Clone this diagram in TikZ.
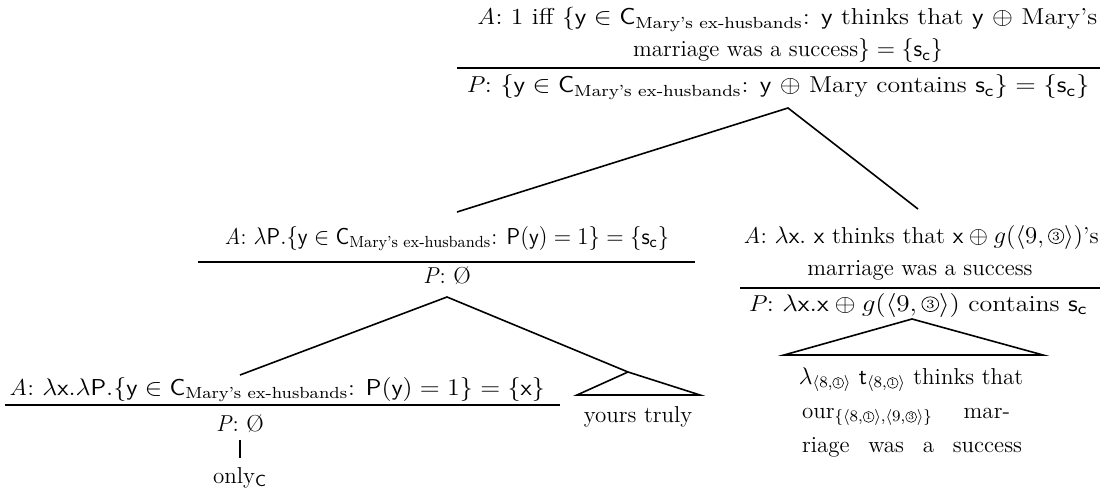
\documentclass[tikz,border=0pt]{standalone}
\usepackage{amsmath,amssymb}
\usepackage{fontspec}
\newcommand{\Cmx}{\mathsf{C}_{\text{Mary's ex-husbands}}}
% circled digits: normal size and subscript size
\newcommand{\cN}[1]{\text{\tikz[baseline=0pt]{\draw[line width=0.35pt] (0pt,3.4pt) circle[radius=3.7pt]; \node[inner sep=0pt,anchor=center,font=\fontsize{6.2}{6.2}\selectfont] at (0pt,3.4pt) {#1};}}}
\newcommand{\cS}[1]{\text{\tikz[baseline=0pt]{\draw[line width=0.3pt] (0pt,2.4pt) circle[radius=2.7pt]; \node[inner sep=0pt,anchor=center,font=\fontsize{4.5}{4.5}\selectfont] at (0pt,2.4pt) {#1};}}}
\newcommand{\sv}{\mathsf{s}_{\mathsf{c}}}
\begin{document}
\begin{tikzpicture}[x=0.5pt,y=-0.5pt,
  lbl/.style={anchor=base,inner sep=0pt,font=\fontsize{11.5}{14}\selectfont},
  branch/.style={line width=0.8pt},
  rulebar/.style={line width=0.7pt}]
\useasboundingbox (0,0) rectangle (1102,497);
% top node
\node[lbl] (tA1) at (787,25) {\scalebox{1.12}[1]{\textit{A}: 1 iff \{$\mathsf{y}\in\Cmx$: \textsf{y} thinks that \textsf{y} $\oplus$ Mary's}};
\node[lbl] (tA2) at (788,57) {marriage was a success$\} = \{\sv\}$};
\draw[rulebar] (457,68) -- (1100,68);
\node[lbl] (tP) at (778,93) {\scalebox{1.12}[1]{\textit{P}: $\{\mathsf{y}\in\Cmx$: \textsf{y} $\oplus$ Mary contains $\sv\} = \{\sv\}$}};
\coordinate (topb) at (788,108);
\coordinate (lt) at (457,212);
\coordinate (rt) at (918,209);
\draw[branch] (lt) -- (topb) -- (rt);
% left middle
\node[lbl] (lA) at (447,244) {\scalebox{0.95}[1]{\textit{A}: $\lambda\mathsf{P}.\{\mathsf{y}\in\Cmx$: $\mathsf{P}(\mathsf{y}) = 1\} = \{\sv\}$}};
\draw[rulebar] (198,262) -- (695,262);
\node[lbl] (lP) at (447,284) {\textit{P}: \O};
\coordinate (lb) at (447,297);
\coordinate (llt) at (240,375);
\coordinate (yta) at (628,372);
\draw[branch] (llt) -- (lb) -- (yta);
% bottom left
\node[lbl] (blA) at (277,395) {\scalebox{1.09}[1]{\textit{A}: $\lambda\mathsf{x}.\lambda\mathsf{P}.\{\mathsf{y}\in\Cmx$: $\mathsf{P}(\mathsf{y}) = 1\} = \{\mathsf{x}\}$}};
\draw[rulebar] (5,405) -- (560,405);
\node[lbl] (blP) at (240,431) {\textit{P}: \O};
\node[lbl] (only) at (240,483) {only$_{\mathsf{C}}$};
\draw[line width=0.6pt] (240,440) -- (240,458);
% yours truly
\draw[branch] (yta) -- (577,395) -- (700,395) -- cycle;
\node[lbl] (yt) at (638,422) {yours truly};
% right middle
\node[lbl] (rA1) at (921,243) {\scalebox{1.03}[1]{\textit{A}: $\lambda\mathsf{x}.$ \textsf{x} thinks that $\mathsf{x}\oplus g(\langle 9,\cN{3}\rangle)$'s}};
\node[lbl] (rA2) at (920,275) {marriage was a success};
\draw[rulebar] (740,288) -- (1100,288);
\node[lbl] (rP) at (918,311) {\scalebox{1.13}[1]{\textit{P}: $\lambda\mathsf{x}.\mathsf{x}\oplus g(\langle 9,\cN{3}\rangle)$ contains $\sv$}};
\coordinate (ra) at (912,319);
\draw[branch] (ra) -- (784,355) -- (1043,355) -- cycle;
\node[lbl] (tr1) at (911,384) {$\lambda_{\langle 8,\cS{1}\rangle}$ $\mathsf{t}_{\langle 8,\cS{1}\rangle}$ thinks that};
\node[lbl] (tr2) at (906,418) {\makebox[104pt][s]{our$_{\{\langle 8,\cS{1}\rangle,\langle 9,\cS{3}\rangle\}}$\hfill mar-}};
\node[lbl] (tr3) at (912,452) {\makebox[110pt][s]{riage \hfill was \hfill a \hfill success}};
\end{tikzpicture}
\end{document}
